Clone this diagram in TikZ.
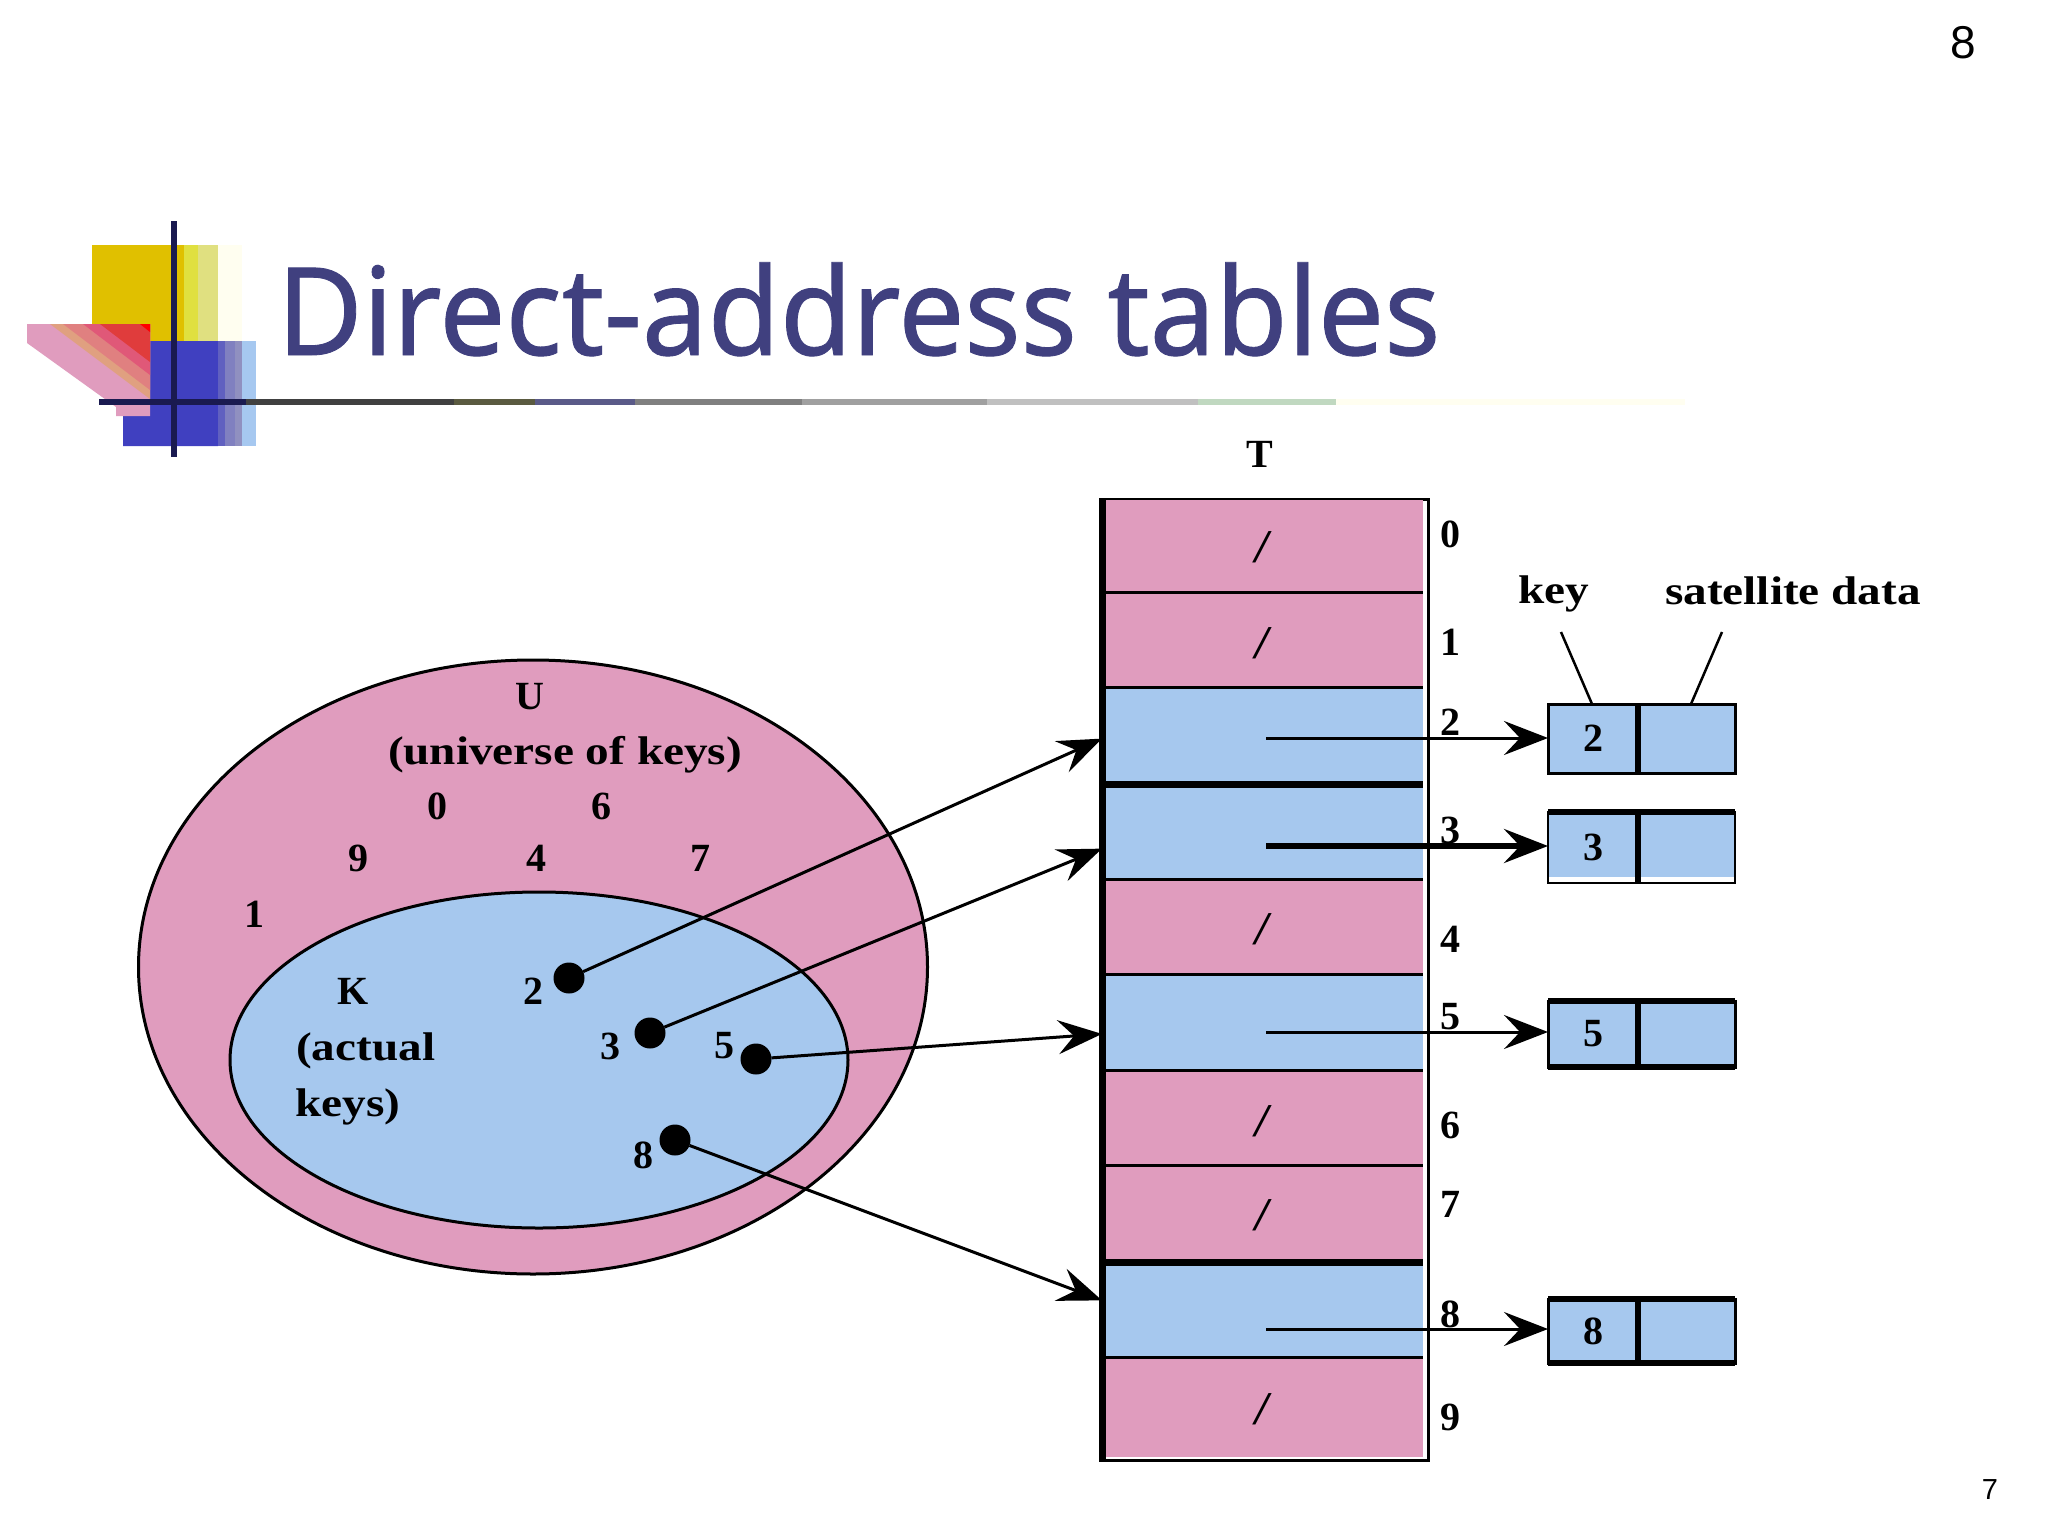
\documentclass[tikz,border=0pt]{standalone}
\usepackage{fontspec}
\setmainfont{Liberation Serif}
\newfontfamily\titlefont[FakeStretch=0.962,FakeBold=0.7]{Noto Sans}
\newfontfamily\numfont{Liberation Sans}
\newfontfamily\wideword[FakeStretch=1.18]{Liberation Serif}
\usetikzlibrary{arrows.meta,shapes.geometric,calc}
\definecolor{cellpink}{HTML}{E09CBE}
\definecolor{cellblue}{HTML}{A6C8EE}
\definecolor{titleblue}{HTML}{40407F}
\definecolor{logodark}{HTML}{1A1A50}
\tikzset{
  x=1pt,y=-1pt,
  hx/.code={\definecolor{hxtmp}{HTML}{#1}\pgfkeysalso{/tikz/fill=hxtmp}},
  lbl/.style={font=\fontsize{40}{44}\selectfont\bfseries,inner sep=0pt,text=black},
  wordlbl/.style={font=\wideword\fontsize{40}{44}\selectfont\bfseries,inner sep=0pt,text=black},
  nilmark/.style={font=\fontsize{47}{50}\selectfont\bfseries\itshape,inner sep=0pt,text=black},
  pinkcell/.style={rectangle,fill=cellpink,anchor=north west,minimum width=318pt,inner sep=0pt,outer sep=0pt},
  bluecell/.style={rectangle,fill=cellblue,anchor=north west,minimum width=318pt,inner sep=0pt,outer sep=0pt},
  halfcell/.style={rectangle,fill=cellblue,anchor=north west,inner sep=0pt,outer sep=0pt},
  keydot/.style={circle,fill=black,minimum size=31pt,inner sep=0pt,outer sep=0pt},
  ptr/.style={line width=3pt,-{Stealth[length=44pt,width=34pt,inset=16pt]}},
  ptrfat/.style={line width=5.5pt,-{Stealth[length=44pt,width=34pt,inset=16pt]}},
  hit/.style={line width=3pt,shorten >=-1pt,-{Stealth[length=44pt,width=34pt,inset=16pt]}},
  leader/.style={line width=2.5pt},
  rowline/.style={line width=3pt},
  rowthick/.style={line width=7pt},
}
\begin{document}
\begin{tikzpicture}
\useasboundingbox (0,0) rectangle (2048,1536);
\fill[white] (0,0) rectangle (2048,1536);

% --- logo
\fill[hx=FFFEF0] (218,245) rectangle (242,341);
\fill[hx=E0C000] (92,245) rectangle (184,341);
\fill[hx=E0E040] (184,245) rectangle (198,341);
\fill[hx=E0E080] (198,245) rectangle (218,341);
\fill[hx=4040C0] (150,341) -- (218,341) -- (218,446) -- (123,446) -- (123,416) -- (150,416) -- cycle;
\fill[hx=6060C0] (218,341) rectangle (225,446);
\fill[hx=8080C0] (225,341) rectangle (235,446);
\fill[hx=9090C0] (235,341) rectangle (242,446);
\fill[hx=A6C8F0] (242,341) rectangle (256,446);
\fill[cellpink] (27,324) -- (150,324) -- (150,416) -- (116,416) -- (116,407) -- (27,343) -- cycle;
\fill[hx=E0A080] (50,324) -- (150,324) -- (150,399) -- cycle;
\fill[hx=E08080] (63,324) -- (150,324) -- (150,390) -- cycle;
\fill[hx=E05878] (83,324) -- (150,324) -- (150,375) -- cycle;
\fill[hx=E03C3C] (100,324) -- (150,324) -- (150,362) -- cycle;
\fill[hx=FF0000] (140,324) -- (150,324) -- (150,332) -- cycle;

% --- title rule
\fill[hx=404040] (246,399) rectangle (454,405);
\fill[hx=5A5A40] (454,399) rectangle (535,405);
\fill[hx=5A5A88] (535,399) rectangle (635,405);
\fill[hx=808080] (635,399) rectangle (802,405);
\fill[hx=A0A0A0] (802,399) rectangle (987,405);
\fill[hx=C0C0C0] (987,399) rectangle (1198,405);
\fill[hx=C0D8C0] (1198,399) rectangle (1336,405);
\fill[hx=FFFEF0] (1336,399) rectangle (1685,405);
\fill[logodark] (99,399) rectangle (246,405);
\fill[logodark] (171,221) rectangle (177,457);

% --- title and page numbers
\node[anchor=base west,inner sep=0pt,text=titleblue] (title) at (277,355)
  {\titlefont\fontsize{122}{130}\selectfont Direct-address tables};
\node[inner sep=0pt] (slidenum) at (1963,43) {\numfont\fontsize{46}{50}\selectfont 8};
\node[inner sep=0pt] (pagenum) at (1990,1490) {\numfont\fontsize{29}{32}\selectfont 7};

% --- sets
\node[ellipse,draw=black,line width=3pt,fill=cellpink,minimum width=789pt,minimum height=614pt,inner sep=0pt] (U) at (533,967) {};
\node[ellipse,draw=black,line width=3pt,fill=cellblue,minimum width=618pt,minimum height=336pt,inner sep=0pt] (K) at (539,1060) {};
\node[lbl] (ulab) at (530,697) {U};
\node[wordlbl] (uni) at (565,755) {(universe of keys)};
\node[lbl] (n0) at (437,806) {0};
\node[lbl] (n6) at (601,806) {6};
\node[lbl] (n9) at (358,858) {9};
\node[lbl] (n4) at (536,858) {4};
\node[lbl] (n7) at (700,858) {7};
\node[lbl] (n1) at (254,914) {1};
\node[lbl] (klab) at (353,991) {K};
\node[wordlbl,anchor=west] (act) at (296,1051) {(actual};
\node[wordlbl,anchor=west] (kys) at (295,1107) {keys)};
\node[lbl] (n2) at (533,991) {2};
\node[lbl] (n3) at (610,1046) {3};
\node[lbl] (n5) at (724,1046) {5};
\node[lbl] (n8) at (643,1155) {8};
\node[keydot] (d2) at (569,978) {};
\node[keydot] (d3) at (650,1033) {};
\node[keydot] (d5) at (756,1059) {};
\node[keydot] (d8) at (675,1140) {};

% --- table frame and rows
\node[rectangle,draw=black,line width=3pt,fill=white,anchor=north west,minimum width=326pt,minimum height=961pt,inner sep=0pt] (tbl) at (1101,498) {};
\node[pinkcell,minimum height=92pt] (r0) at (1105,500) {};
\node[pinkcell,minimum height=95pt] (r1) at (1105,592) {};
\node[bluecell,minimum height=97pt] (r2) at (1105,687) {};
\node[bluecell,minimum height=95pt] (r3) at (1105,784) {};
\node[pinkcell,minimum height=95pt] (r4) at (1105,879) {};
\node[bluecell,minimum height=96pt] (r5) at (1105,974) {};
\node[pinkcell,minimum height=95pt] (r6) at (1105,1070) {};
\node[pinkcell,minimum height=97pt] (r7) at (1105,1165) {};
\node[bluecell,minimum height=95pt] (r8) at (1105,1262) {};
\node[pinkcell,minimum height=100pt] (r9) at (1105,1357) {};
\draw[line width=7pt] ($(tbl.north west)+(1,0)$) -- ($(tbl.south west)+(1,0)$);
\draw[rowline] (r0.south west) -- (r0.south east);
\draw[rowline] (r1.south west) -- (r1.south east);
\draw[rowthick] (r2.south west) -- (r2.south east);
\draw[rowline] (r3.south west) -- (r3.south east);
\draw[rowline] (r4.south west) -- (r4.south east);
\draw[rowline] (r5.south west) -- (r5.south east);
\draw[rowline] (r6.south west) -- (r6.south east);
\draw[rowthick] (r7.south west) -- (r7.south east);
\draw[rowline] (r8.south west) -- (r8.south east);

\node[lbl] (tlab) at (1260,454) {T};
\node[nilmark] at (1262,547) {/};
\node[nilmark] at (1262,643) {/};
\node[nilmark] at (1262,929) {/};
\node[nilmark] at (1262,1121) {/};
\node[nilmark] at (1262,1215) {/};
\node[nilmark] at (1262,1409) {/};

\node[lbl] (i0) at (1450,534) {0};
\node[lbl] (i1) at (1450,642) {1};
\node[lbl] (i2) at (1450,722) {2};
\node[lbl] (i3) at (1450,830) {3};
\node[lbl] (i4) at (1450,939) {4};
\node[lbl] (i5) at (1450,1017) {5};
\node[lbl] (i6) at (1450,1125) {6};
\node[lbl] (i7) at (1450,1204) {7};
\node[lbl] (i8) at (1450,1314) {8};
\node[lbl] (i9) at (1450,1417) {9};

% --- element records
\node[halfcell,minimum width=90pt,minimum height=69pt] (k2) at (1548,704) {};
\node[halfcell,minimum width=97pt,minimum height=69pt] (s2) at (1638,704) {};
\node[halfcell,minimum width=90pt,minimum height=71pt] (k3) at (1548,812) {};
\node[halfcell,minimum width=97pt,minimum height=71pt] (s3) at (1638,812) {};
\node[halfcell,minimum width=90pt,minimum height=66pt] (k5) at (1548,1001) {};
\node[halfcell,minimum width=97pt,minimum height=66pt] (s5) at (1638,1001) {};
\node[halfcell,minimum width=90pt,minimum height=64pt] (k8) at (1548,1299) {};
\node[halfcell,minimum width=97pt,minimum height=64pt] (s8) at (1638,1299) {};

\draw[line width=3pt] (k2.north west) rectangle (s2.south east);
\draw[line width=6pt] (k2.north east) -- (k2.south east);
\fill[white] (1549,877) rectangle (1735,882);
\draw[line width=2.5pt] (k3.north west) rectangle (s3.south east);
\draw[line width=6pt] (k3.north west) -- (s3.north east);
\draw[line width=6pt] (k3.north east) -- (k3.south east);
\draw[line width=3pt] (k5.north west) rectangle (s5.south east);
\draw[line width=6pt] (k5.north west) -- (s5.north east);
\draw[line width=6pt] (k5.south west) -- (s5.south east);
\draw[line width=6pt] (k5.north east) -- (k5.south east);
\draw[line width=3pt] (k8.north west) rectangle (s8.south east);
\draw[line width=6pt] (k8.north west) -- (s8.north east);
\draw[line width=6pt] (k8.south west) -- (s8.south east);
\draw[line width=6pt] (k8.north east) -- (k8.south east);

\node[lbl] at (k2) {2};
\node[lbl] at (k3) {3};
\node[lbl] at (k5) {5};
\node[lbl] at (k8) {8};

\node[wordlbl] (keylab) at (1554,594) {key};
\node[wordlbl] (satlab) at (1793,591) {satellite data};
\coordinate (keyend) at (1561,632);
\coordinate (satend) at (1722,632);
\draw[leader] (keyend) -- ($(k2.north west)+(44,0)$);
\draw[leader] (satend) -- ($(s2.north west)+(53,0)$);

% --- pointers
\coordinate (t2) at (1101,739);
\coordinate (t3) at (1101,849);
\coordinate (t5) at (1101,1034);
\coordinate (t8) at (1101,1300);
\draw[hit] (d2) -- (t2);
\draw[hit] (d3) -- (t3);
\draw[hit] (d5) -- (t5);
\draw[hit] (d8) -- (t8);
\coordinate (p2) at (1266,738);
\coordinate (p3) at (1266,846);
\coordinate (p5) at (1266,1032);
\coordinate (p8) at (1266,1329);
\draw[ptr] (p2) -- (p2 -| k2.west);
\draw[ptrfat] (p3) -- (p3 -| k3.west);
\draw[ptr] (p5) -- (p5 -| k5.west);
\draw[ptr] (p8) -- (p8 -| k8.west);
\end{tikzpicture}
\end{document}
